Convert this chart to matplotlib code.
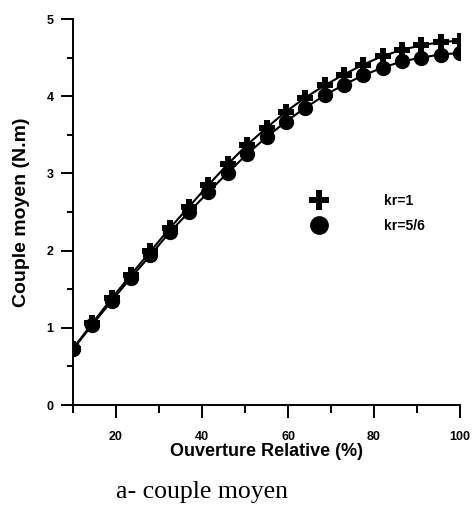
import matplotlib
matplotlib.use("Agg")
import matplotlib.pyplot as plt
from matplotlib.ticker import MultipleLocator

ouverture = [10, 14.5, 19, 23.5, 28, 32.5, 37, 41.5, 46, 50.5, 55, 59.5, 64, 68.5, 73, 77.5, 82, 86.5, 91, 95.5, 100]
couple_kr1 = [0.73, 1.06, 1.38, 1.69, 1.99, 2.29, 2.57, 2.85, 3.12, 3.37, 3.59, 3.80, 3.98, 4.14, 4.28, 4.41, 4.52, 4.60, 4.66, 4.70, 4.72]
couple_kr56 = [0.72, 1.04, 1.35, 1.65, 1.94, 2.24, 2.50, 2.76, 3.01, 3.25, 3.47, 3.67, 3.85, 4.01, 4.15, 4.27, 4.37, 4.45, 4.50, 4.54, 4.56]
labels = ["kr=1", "kr=5/6"]

plt.rcParams['font.family'] = ['Liberation Sans', 'DejaVu Sans']
fig = plt.figure(figsize=(4.75, 5.08), dpi=100)
ax = fig.add_axes([73/475, 1-405/508, (460-73)/475, (405-19)/508])

ax.plot(ouverture, couple_kr1, color='black', lw=1.5, marker='P', markersize=11,
        markeredgewidth=0, label=labels[0])
ax.plot(ouverture, couple_kr56, color='black', lw=1.5, marker='o', markersize=10,
        label=labels[1])

ax.set_xlim(10, 100)
ax.set_ylim(0, 5)
ax.xaxis.set_major_locator(MultipleLocator(20))
ax.xaxis.set_minor_locator(MultipleLocator(10))
ax.yaxis.set_major_locator(MultipleLocator(1))
ax.yaxis.set_minor_locator(MultipleLocator(0.5))
ax.spines['top'].set_visible(False)
ax.spines['right'].set_visible(False)
for s in ['left', 'bottom']:
    ax.spines[s].set_linewidth(1.4)
ax.tick_params(which='major', direction='out', length=9, width=1.4, labelsize=9)
ax.tick_params(axis='x', which='minor', direction='out', length=6, width=1.4)
ax.tick_params(axis='y', which='minor', direction='out', length=4, width=1.4)
ax.set_xticks([20, 40, 60, 80, 100])
ax.set_xticklabels(['20', '40', '60', '80', '100'])
for lab in ax.get_xticklabels() + ax.get_yticklabels():
    lab.set_fontweight('bold')
ax.tick_params(axis='x', pad=10)
ax.tick_params(axis='y', pad=5)
ax.set_xlabel('Ouverture Relative (%)', fontsize=13, fontweight='bold', labelpad=0)
ax.set_ylabel('Couple moyen (N.m)', fontsize=14, fontweight='bold', labelpad=12)

leg = ax.legend(loc='upper left', bbox_to_anchor=(0.585, 0.58), frameon=False,
                handlelength=1.0, handletextpad=4.2, labelspacing=0.8,
                markerscale=1.25, prop={'weight': 'bold', 'size': 10})
for h in leg.legend_handles:
    h.set_linestyle('none')

fig.text(202/475, 1-492/508, 'a- couple moyen', family='Liberation Serif',
         fontsize=18.5, ha='center', va='center')

fig.savefig('out.png', dpi=100)
